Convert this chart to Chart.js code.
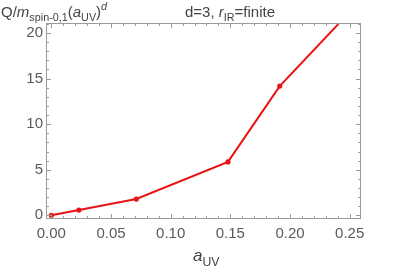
<!DOCTYPE html>
<html>
<head>
<meta charset="utf-8">
<script src="https://cdn.jsdelivr.net/npm/chart.js@4/dist/chart.umd.min.js"></script>
<style>
  html, body { margin: 0; padding: 0; background: #fff; }
  #wrap { width: 407px; height: 268px; }
</style>
</head>
<body>
<div id="wrap"><canvas id="chart1" width="407" height="268"></canvas></div>
<script>
// values
const aUV = [0, 0.0231, 0.0712, 0.148, 0.1914, 0.25];
const qOverM = [0, 0.58, 1.79, 5.86, 14.18, 22.3];
const xTickValues = [0, 0.05, 0.10, 0.15, 0.20, 0.25];
const yTickValues = [0, 5, 10, 15, 20];

const FONT = '"Liberation Sans", Arial, sans-serif';
const TEXT_GRAY = '#5a5a5a';
const FRAME_GRAY = '#9a9a9a';

// draws a run of pieces: [text, style] where style is 'n' normal, 'i' italic, 'sub', 'isup'
function drawRich(ctx, x, y, pieces, size) {
    ctx.save();
    ctx.fillStyle = '#444';
    ctx.textBaseline = 'alphabetic';
    ctx.textAlign = 'left';
    pieces.forEach(([txt, st]) => {
        let fs = size, dy = 0, italic = false;
        if (st === 'i') italic = true;
        if (st === 'sub') { fs = size * 0.72; dy = size * 0.28; }
        if (st === 'isup') { fs = size * 0.72; dy = -size * 0.45; italic = true; }
        ctx.font = (italic ? 'italic ' : '') + fs + 'px ' + FONT;
        ctx.fillText(txt, x, y + dy);
        x += ctx.measureText(txt).width;
    });
    ctx.restore();
}

// Mathematica style frame: box on four sides, ticks pointing inward
const framePlugin = {
    id: 'frame',
    afterDraw(chart) {
        const { ctx, chartArea: a, scales } = chart;
        ctx.save();
        ctx.strokeStyle = FRAME_GRAY;
        ctx.lineWidth = 1;
        ctx.strokeRect(a.left + 0.5, a.top + 0.5, a.right - a.left - 1, a.bottom - a.top - 1);

        ctx.beginPath();
        for (let i = 0; i <= 26; i++) {
            const v = i * 0.01;
            const px = Math.round(scales.x.getPixelForValue(v)) + 0.5;
            if (px < a.left || px > a.right) continue;
            const len = (i % 5 === 0) ? 5 : 3;
            ctx.moveTo(px, a.bottom); ctx.lineTo(px, a.bottom - len);
            ctx.moveTo(px, a.top); ctx.lineTo(px, a.top + len);
        }
        for (let i = 0; i <= 21; i++) {
            const py = Math.round(scales.y.getPixelForValue(i)) + 0.5;
            if (py < a.top || py > a.bottom) continue;
            const len = (i % 5 === 0) ? 5 : 3;
            ctx.moveTo(a.left, py); ctx.lineTo(a.left + len, py);
            ctx.moveTo(a.right, py); ctx.lineTo(a.right - len, py);
        }
        ctx.stroke();
        ctx.restore();

        // titles
        drawRich(ctx, 1, 17, [['Q/', 'n'], ['m', 'i'], ['spin-0,1', 'sub'], ['(', 'n'], ['a', 'i'], ['UV', 'sub'], [')', 'n'], ['d', 'isup']], 15);
        drawRich(ctx, 185, 17, [['d=3, ', 'n'], ['r', 'i'], ['IR', 'sub'], ['=finite', 'n']], 15);
        drawRich(ctx, 193, 261, [['a', 'i'], ['UV', 'sub']], 17);
    }
};

const ctx = document.getElementById('chart1').getContext('2d');
new Chart(ctx, {
    type: 'line',
    data: {
        datasets: [{
            data: aUV.map((x, i) => ({ x, y: qOverM[i] })),
            borderColor: 'rgb(232, 20, 20)',
            backgroundColor: 'rgb(232, 20, 20)',
            borderWidth: 2,
            pointRadius: 1.6,
            pointHoverRadius: 1.6,
            tension: 0
        }]
    },
    options: {
        responsive: false,
        animation: false,
        layout: { padding: { top: 23, right: 46, left: 0, bottom: 0 } },
        plugins: {
            legend: { display: false },
            tooltip: { enabled: false }
        },
        scales: {
            x: {
                type: 'linear',
                min: -0.0045,
                max: 0.2595,
                afterFit: s => { s.height = 49; },
                afterBuildTicks: s => { s.ticks = xTickValues.map(v => ({ value: v })); },
                grid: { display: false, drawTicks: false },
                border: { display: false },
                ticks: {
                    padding: 6,
                    color: TEXT_GRAY,
                    font: { family: FONT, size: 15 },
                    callback: v => v.toFixed(2)
                }
            },
            y: {
                min: -0.4,
                max: 21.1,
                afterFit: s => { s.width = 46; },
                afterBuildTicks: s => { s.ticks = yTickValues.map(v => ({ value: v })); },
                grid: { display: false, drawTicks: false },
                border: { display: false },
                ticks: {
                    padding: 3,
                    color: TEXT_GRAY,
                    font: { family: FONT, size: 15 }
                }
            }
        }
    },
    plugins: [framePlugin]
});
</script>
</body>
</html>
